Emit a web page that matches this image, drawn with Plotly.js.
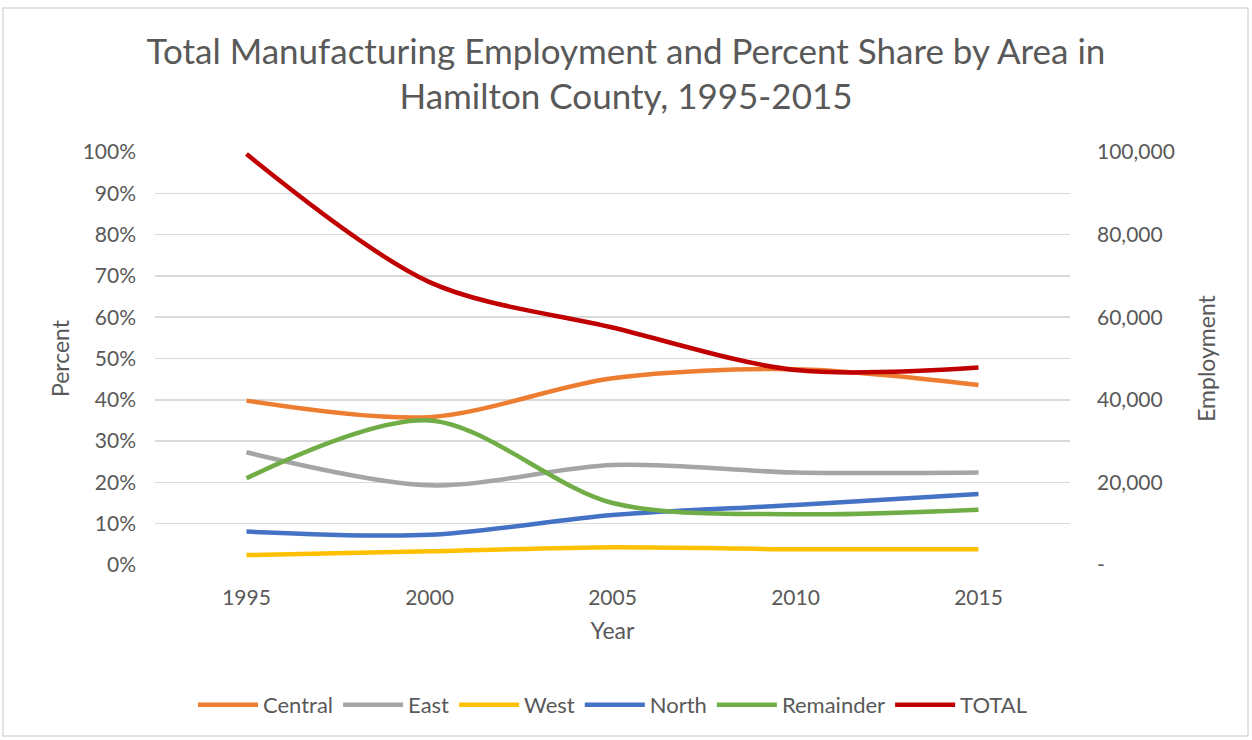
<!DOCTYPE html>
<html>
<head>
<meta charset="utf-8">
<script src="https://cdn.plot.ly/plotly-3.0.1.min.js"></script>
<style>
html,body{margin:0;padding:0;background:#fff;}
#chart{width:1252px;height:740px;}
</style>
</head>
<body>
<div id="chart"></div>
<script>
const years = ['1995', '2000', '2005', '2010', '2015'];
const central = [0.398, 0.358, 0.452, 0.474, 0.436];
const east = [0.273, 0.193, 0.242, 0.224, 0.224];
const west = [0.024, 0.033, 0.043, 0.038, 0.038];
const north = [0.081, 0.073, 0.121, 0.145, 0.172];
const remainder = [0.210, 0.350, 0.150, 0.123, 0.134];
const total = [99500, 68500, 57500, 47200, 47800];

const fontFam = 'Lato, "Open Sans", sans-serif';
const txt = '#595959';

function tr(name, y, color, axis) {
  return {
    x: years, y: y, name: name, type: 'scatter', mode: 'lines',
    yaxis: axis || 'y',
    line: {color: color, width: 4.5, shape: 'spline', smoothing: 0.9},
    hoverinfo: 'x+y+name'
  };
}

const data = [
  tr('Central', central, '#ED7D31'),
  tr('East', east, '#A5A5A5'),
  tr('West', west, '#FFC000'),
  tr('North', north, '#4472C4'),
  tr('Remainder', remainder, '#70AD47'),
  tr('TOTAL', total, '#C00000', 'y2')
];

const layout = {
  width: 1252, height: 740,
  paper_bgcolor: '#fff', plot_bgcolor: '#fff',
  font: {family: fontFam, color: txt, size: 21},
  margin: {l: 155, r: 182, t: 152, b: 175},
  title: {
    text: 'Total Manufacturing Employment and Percent Share by Area in<br>Hamilton County, 1995-2015',
    font: {size: 35, color: txt, family: fontFam},
    x: 0.5, xanchor: 'center', y: 0.914, yanchor: 'top'
  },
  xaxis: {
    type: 'category', range: [-0.5, 4.5],
    showgrid: false, zeroline: false, showline: false,
    ticks: '', tickfont: {size: 21, color: txt}, ticklabelstandoff: 18,
    title: {text: 'Year', font: {size: 23, color: txt}, standoff: 14}
  },
  yaxis: {
    range: [0, 1], dtick: 0.1, tickformat: '.0%',
    gridcolor: '#D9D9D9', gridwidth: 1.5, zeroline: false, showline: false,
    ticks: '', tickfont: {size: 21, color: txt}, ticklabelstandoff: 18,
    title: {text: 'Percent', font: {size: 23, color: txt}, standoff: 6}
  },
  yaxis2: {
    overlaying: 'y', side: 'right', range: [0, 100000],
    tickvals: [0, 20000, 40000, 60000, 80000, 100000],
    ticktext: ['-', '20,000', '40,000', '60,000', '80,000', '100,000'],
    showgrid: false, zeroline: false, showline: false,
    ticks: '', tickfont: {size: 21, color: txt}, ticklabelstandoff: 26,
    title: {text: 'Employment', font: {size: 23, color: txt}, standoff: 25}
  },
  legend: {
    orientation: 'h', x: 0.5, xanchor: 'center', y: -0.339, yanchor: 'middle',
    font: {size: 22, color: txt}, itemwidth: 60, tracegroupgap: 0
  },
  shapes: [{
    type: 'rect', xref: 'paper', yref: 'paper',
    x0: -152/915, x1: (1252-4-155)/915, y0: -(175-4)/413, y1: (740-8-175)/413,
    line: {color: '#D9D9D9', width: 1.5}, fillcolor: 'rgba(0,0,0,0)', layer: 'below'
  }],
  showlegend: true
};

Plotly.newPlot('chart', data, layout, {displayModeBar: false, staticPlot: true});
</script>
</body>
</html>
